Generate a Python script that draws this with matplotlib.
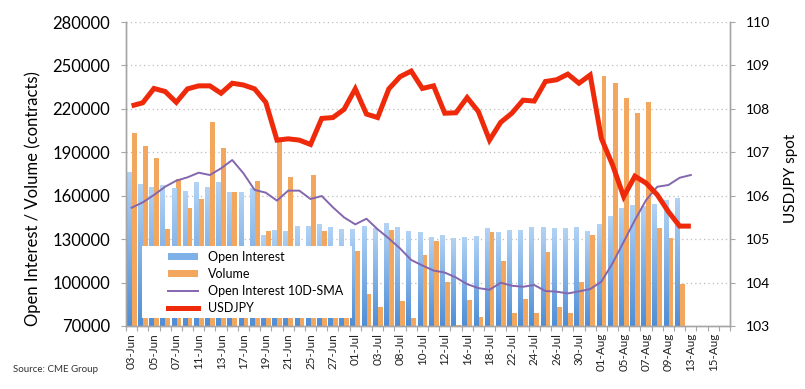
"""CME USDJPY futures: open interest, volume and spot, Jun-Aug."""

import numpy as np
import matplotlib.pyplot as plt
from matplotlib.patches import Patch, Rectangle
from matplotlib.lines import Line2D
from matplotlib.colors import LinearSegmentedColormap

plt.rcParams['font.family'] = ['Lato', 'DejaVu Sans']

# Trading days on the category axis (every other one gets a label)
dates = ["03-Jun", "04-Jun", "05-Jun", "06-Jun", "07-Jun", "10-Jun", "11-Jun", "12-Jun",
         "13-Jun", "14-Jun", "17-Jun", "18-Jun", "19-Jun", "20-Jun", "21-Jun", "24-Jun",
         "25-Jun", "26-Jun", "27-Jun", "28-Jun", "01-Jul", "02-Jul", "03-Jul", "05-Jul",
         "08-Jul", "09-Jul", "10-Jul", "11-Jul", "12-Jul", "15-Jul", "16-Jul", "17-Jul",
         "18-Jul", "19-Jul", "22-Jul", "23-Jul", "24-Jul", "25-Jul", "26-Jul", "29-Jul",
         "30-Jul", "31-Jul", "01-Aug", "02-Aug", "05-Aug", "06-Aug", "07-Aug", "08-Aug",
         "09-Aug", "12-Aug", "13-Aug", "14-Aug", "15-Aug", "16-Aug"]

open_interest = [176600, 168070, 166230, 167380, 165540, 163470, 169690, 166000, 169230, 162780,
                 162500, 165540, 133000, 136300, 135800, 139000, 139400, 140300, 138500, 137000,
                 136800, 139200, 137500, 140900, 138600, 135700, 135100, 131700, 133100, 131100,
                 131700, 131900, 137450, 135140, 136290, 136290, 138130, 138130, 137450, 137450,
                 138600, 135600, 140200, 145960, 151700, 153560, 153100, 154000, 157000, 158170]

volume = [203080, 194560, 185800, 136750, 171300, 151720, 157480, 210680, 192700, 162780,
          115000, 169900, 135500, 197300, 173150, 112000, 174000, 135400, 124000, 108000,
          121700, 92000, 83000, 136300, 87400, 75500, 118700, 129000, 100400, 70500,
          87900, 76400, 135150, 114870, 78720, 88390, 78720, 121320, 82860, 78720,
          100600, 132840, 242920, 237620, 227260, 216900, 224500, 137440, 130540, 98750]

oi_sma = [151700, 155400, 160500, 166200, 170400, 172700, 175900, 174300, 178900, 184650,
          175500, 164000, 162100, 156600, 163500, 163500, 157700, 159800, 152000, 145000,
          140200, 144100, 136800, 130500, 123600, 115600, 111800, 108300, 106900, 103500,
          98900, 96200, 95000, 99900, 97800, 97100, 98300, 94150, 93700, 92500,
          93900, 95500, 100600, 113300, 128200, 143200, 157000, 166200, 167400, 172400,
          174300]

usdjpy = [108.07, 108.14, 108.47, 108.40, 108.15, 108.46, 108.53, 108.53, 108.36, 108.59,
          108.55, 108.46, 108.15, 107.28, 107.31, 107.28, 107.18, 107.78, 107.80, 107.99,
          108.46, 107.88, 107.80, 108.46, 108.74, 108.87, 108.47, 108.53, 107.90, 107.91,
          108.26, 107.94, 107.28, 107.69, 107.90, 108.20, 108.18, 108.63, 108.67, 108.80,
          108.59, 108.78, 107.32, 106.71, 105.98, 106.45, 106.29, 106.02, 105.63, 105.30,
          105.30]

left_ticks = np.arange(70000, 280001, 30000)
right_ticks = np.arange(103, 111, 1)

orange = '#F3A65E'
purple = '#8466AE'
red = '#EE2A0A'
axis_grey = '#A6A6A6'
blue_grad = LinearSegmentedColormap.from_list('oi', ['#4F8ED6', '#B3D3F4'])

fig = plt.figure(figsize=(8.05, 3.89), dpi=100)
ax = fig.add_axes([0.1565, 0.162, 0.7503, 0.7814])
ax2 = ax.twinx()

# bars: open interest (left half of the slot) and volume (right half)
x_oi = np.arange(len(open_interest))
x_vol = np.arange(len(volume))
oi_bars = ax.bar(x_oi - 0.22, open_interest, width=0.42, color='#7FB1E8', zorder=2)
ax.bar(x_vol + 0.23, volume, width=0.43, color=orange, zorder=2)

# vertical gradient inside each open-interest bar
grad = np.linspace(0, 1, 64).reshape(-1, 1)
for b in oi_bars:
    x0 = b.get_x()
    im = ax.imshow(grad, extent=(x0, x0 + b.get_width(), left_ticks[0], b.get_height()),
                   aspect='auto', cmap=blue_grad, origin='lower', zorder=2.1)
    im.set_clip_path(b)

ax.plot(np.arange(len(oi_sma)), oi_sma, color=purple, lw=1.4, zorder=3)
ax2.plot(np.arange(len(usdjpy)), usdjpy, color=red, lw=3.6, solid_joinstyle='miter',
         solid_capstyle='butt')

ax.set_xlim(-0.5, len(dates) - 0.5)
ax.set_ylim(left_ticks[0], left_ticks[-1])
ax2.set_ylim(right_ticks[0], right_ticks[-1])

ax.set_yticks(left_ticks)
ax.set_yticklabels([str(v) for v in left_ticks], fontsize=12)
ax2.set_yticks(right_ticks)
ax2.set_yticklabels([str(v) for v in right_ticks], fontsize=10)

ax.set_xticks(np.arange(0, len(dates), 2))
ax.set_xticklabels(dates[::2], rotation=90, fontsize=8.4, color='#222222')
ax.set_xticks(np.arange(-0.5, len(dates), 1), minor=True)
ax.tick_params(axis='x', which='major', length=0, pad=5)
ax.tick_params(axis='x', which='minor', length=3.5, color=axis_grey, width=0.8)
ax.tick_params(axis='y', length=3.5, color=axis_grey, width=0.8, pad=8)
ax2.tick_params(axis='y', length=3.5, color=axis_grey, width=0.8, pad=8)

ax.grid(axis='y', color='#BDBDBD', linestyle=(0, (1, 2.5)), linewidth=0.9)
ax.set_axisbelow(True)

for a in (ax, ax2):
    a.spines['top'].set_visible(False)
    for s in ('left', 'right', 'bottom'):
        a.spines[s].set_color(axis_grey)
        a.spines[s].set_linewidth(1.0)

ax.set_ylabel('Open Interest / Volume (contracts)', fontsize=12)
ax.yaxis.set_label_coords(-0.14, 0.42)
ax2.set_ylabel('USDJPY spot', fontsize=11)
ax2.yaxis.set_label_coords(1.09, 0.484)

# white legend panel covering the lower left bars
ax2.add_patch(Rectangle((0.026, 0.026), 0.348, 0.237, transform=ax2.transAxes,
                        facecolor='white', edgecolor='none', zorder=4))
handles = [Patch(facecolor='#7FB1E8', edgecolor='none'),
           Patch(facecolor=orange, edgecolor='none'),
           Line2D([], [], color=purple, lw=1.4),
           Line2D([], [], color=red, lw=3.6)]
labels = ['Open Interest', 'Volume', 'Open Interest 10D-SMA', 'USDJPY']
leg = ax2.legend(handles, labels, loc='upper left', bbox_to_anchor=(0.0695, 0.248),
                 fontsize=9, frameon=False, handlelength=2.4, handleheight=0.5,
                 handletextpad=0.8, labelspacing=0.42, borderpad=0, borderaxespad=0)
leg.set_zorder(5)

fig.text(0.016, 0.043, 'Source: CME Group', fontsize=7, color='#333333')

fig.savefig('out.png', dpi=100)
